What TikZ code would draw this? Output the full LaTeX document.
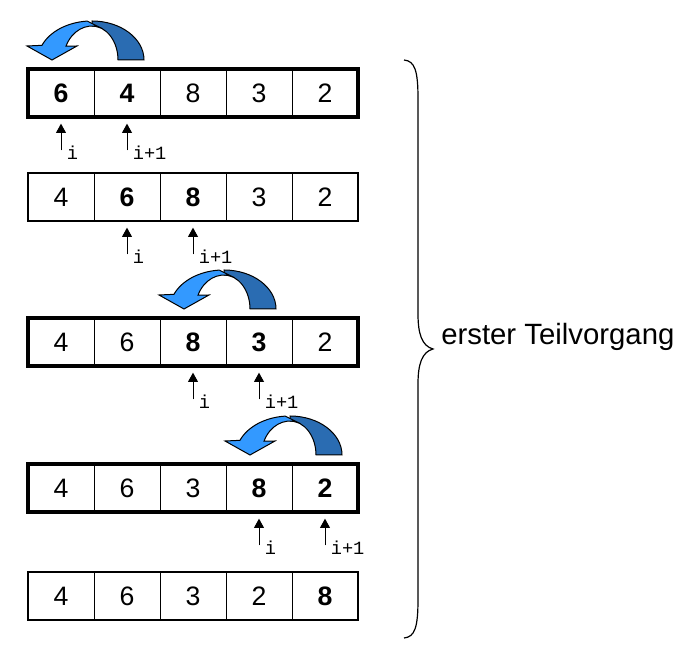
\documentclass[tikz,border=0pt]{standalone}
\usepackage{fontspec}
\setmainfont{Liberation Sans}
\newfontfamily\monofont{Liberation Mono}
\usepackage{tikz}
\usetikzlibrary{positioning,arrows.meta}
\definecolor{swaplight}{RGB}{51,153,255}
\definecolor{swapdark}{RGB}{42,108,178}

\begin{document}
\begin{tikzpicture}[x=0.75pt, y=0.75pt,
		cell/.style={draw, line width=0.75pt, minimum width=49.5pt, minimum height=36pt,
			inner sep=0pt, outer sep=0pt, font=\fontsize{20}{24}\selectfont},
		ptr/.style={-{Triangle[width=7.5pt,length=7pt]}, line width=0.75pt, shorten >=5pt},
		lbl/.style={anchor=north west, inner sep=0pt, xshift=4pt, yshift=4pt,
			font=\monofont\fontsize{14}{16}\selectfont},
		rowbox/.style={line width=3pt},
		rowthin/.style={line width=2pt}]
		\useasboundingbox (0,0) rectangle (685,659);

		% Zeile 1
		\node[cell] (a1) at (61,566) {\textbf{6}};
		\node[cell, right=0pt of a1] (a2) {\textbf{4}};
		\node[cell, right=0pt of a2] (a3) {8};
		\node[cell, right=0pt of a3] (a4) {3};
		\node[cell, right=0pt of a4] (a5) {2};
		\draw[rowbox] (a1.north west) rectangle (a5.south east);

		% Zeile 2
		\node[cell] (b1) at (61,462) {4};
		\node[cell, right=0pt of b1] (b2) {\textbf{6}};
		\node[cell, right=0pt of b2] (b3) {\textbf{8}};
		\node[cell, right=0pt of b3] (b4) {3};
		\node[cell, right=0pt of b4] (b5) {2};
		\draw[rowthin] (b1.north west) rectangle (b5.south east);

		% Zeile 3
		\node[cell] (c1) at (61,317) {4};
		\node[cell, right=0pt of c1] (c2) {6};
		\node[cell, right=0pt of c2] (c3) {\textbf{8}};
		\node[cell, right=0pt of c3] (c4) {\textbf{3}};
		\node[cell, right=0pt of c4] (c5) {2};
		\draw[rowbox] (c1.north west) rectangle (c5.south east);

		% Zeile 4
		\node[cell] (d1) at (61,171) {4};
		\node[cell, right=0pt of d1] (d2) {6};
		\node[cell, right=0pt of d2] (d3) {3};
		\node[cell, right=0pt of d3] (d4) {\textbf{8}};
		\node[cell, right=0pt of d4] (d5) {\textbf{2}};
		\draw[rowbox] (d1.north west) rectangle (d5.south east);

		% Zeile 5
		\node[cell] (e1) at (61,63) {4};
		\node[cell, right=0pt of e1] (e2) {6};
		\node[cell, right=0pt of e2] (e3) {3};
		\node[cell, right=0pt of e3] (e4) {2};
		\node[cell, right=0pt of e4] (e5) {\textbf{8}};
		\draw[rowthin] (e1.north west) rectangle (e5.south east);

		% Zeiger i und i+1
		\coordinate (pa1) at ([yshift=-25pt]a1.south);
		\coordinate (pa2) at ([yshift=-25pt]a2.south);
		\coordinate (pb2) at ([yshift=-25pt]b2.south);
		\coordinate (pb3) at ([yshift=-25pt]b3.south);
		\coordinate (pc3) at ([yshift=-25pt]c3.south);
		\coordinate (pc4) at ([yshift=-25pt]c4.south);
		\coordinate (pd4) at ([yshift=-25pt]d4.south);
		\coordinate (pd5) at ([yshift=-25pt]d5.south);
		\draw[ptr] (pa1) node[lbl] (la1) {i} -- (a1);
		\draw[ptr] (pa2) node[lbl] (la2) {i+1} -- (a2);
		\draw[ptr] (pb2) node[lbl] (lb2) {i} -- (b2);
		\draw[ptr] (pb3) node[lbl] (lb3) {i+1} -- (b3);
		\draw[ptr] (pc3) node[lbl] (lc3) {i} -- (c3);
		\draw[ptr] (pc4) node[lbl] (lc4) {i+1} -- (c4);
		\draw[ptr] (pd4) node[lbl] (ld4) {i} -- (d4);
		\draw[ptr] (pd5) node[lbl] (ld5) {i+1} -- (d5);

		% Tauschpfeile
		\foreach \p in {a1, c3, d4} {
			\begin{scope}[shift={(\p.north east)}]
				\draw[fill=swapdark, line width=0.75pt] (50,9) arc[start angle=0, end angle=90, x radius=52, y radius=39]
					-- (-2,43) arc[start angle=90, end angle=0, x radius=26, y radius=34] -- cycle;
				\draw[fill=swaplight, line width=0.75pt] (-6.7,47.9) arc[start angle=95, end angle=158, x radius=54, y radius=39]
					-- (-67,23) -- (-42,9) -- (-17,23) -- (-28,22.8)
					arc[start angle=156, end angle=75, x radius=28.5, y radius=34] -- cycle;
			\end{scope}
		}

		% Klammer
		\draw[line width=0.9pt] (404,599) .. controls (415,598) and (418,588) .. (418,560) -- (418,345)
			.. controls (418,325) and (422,313) .. (433,310)
			.. controls (422,307) and (418,295) .. (418,275) -- (418,60)
			.. controls (418,32) and (415,22) .. (404,21);
		\node[anchor=base west, inner sep=0pt, font=\fontsize{22}{26}\selectfont] (phase) at (441,314) {erster Teilvorgang};
	\end{tikzpicture}
\end{document}
